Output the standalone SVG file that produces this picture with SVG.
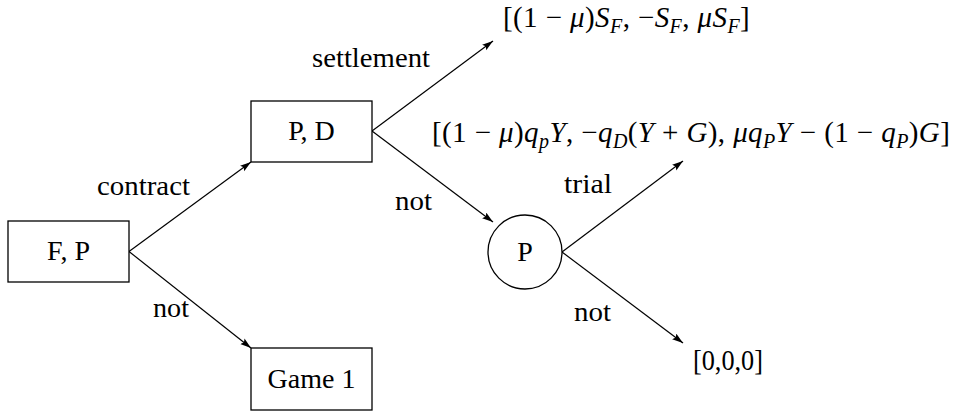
<svg xmlns="http://www.w3.org/2000/svg" width="960" height="414" viewBox="0 0 960 414">
<style>
text{font-family:"Liberation Serif","DejaVu Serif",serif;font-size:28px;fill:#000}
.box{fill:#fff;stroke:#000;stroke-width:1.3}
.edge{fill:none;stroke:#000;stroke-width:1.2;marker-end:url(#ah)}
.c{text-anchor:middle}
.m{font-size:29px;letter-spacing:0.4px}
.i{font-style:italic}
.s{font-size:20px;font-style:italic}
</style>
<defs>
<marker id="ah" markerUnits="userSpaceOnUse" markerWidth="12" markerHeight="8" refX="11" refY="3.5" orient="auto">
<path d="M0,0 L11,3.5 L0,7 L2,3.5 z" fill="#000"/>
</marker>
</defs>
<g id="connectors">
<line class="edge" x1="129" y1="251.5" x2="251" y2="162"/>
<line class="edge" x1="129" y1="251.5" x2="251" y2="348"/>
<line class="edge" x1="372" y1="131" x2="493" y2="41"/>
<line class="edge" x1="372" y1="131" x2="493" y2="222"/>
<line class="edge" x1="562" y1="252" x2="683" y2="161"/>
<line class="edge" x1="562" y1="252" x2="683" y2="343"/>
</g>
<g id="edge-labels">
<text x="97" y="195" textLength="93" lengthAdjust="spacingAndGlyphs">contract</text>
<text x="153" y="317" textLength="36" lengthAdjust="spacingAndGlyphs">not</text>
<text x="312" y="67" textLength="118" lengthAdjust="spacingAndGlyphs">settlement</text>
<text x="395" y="210" textLength="37" lengthAdjust="spacingAndGlyphs">not</text>
<text x="564" y="193" textLength="48" lengthAdjust="spacingAndGlyphs">trial</text>
<text x="574" y="321" textLength="37" lengthAdjust="spacingAndGlyphs">not</text>
</g>
<g id="node-FP">
<rect class="box" x="8" y="221" width="121" height="61"/>
<text class="c" x="68.5" y="260">F, P</text>
</g>
<g id="node-PD">
<rect class="box" x="251" y="101" width="121" height="61"/>
<text class="c" x="311.5" y="140">P, D</text>
</g>
<g id="node-Game1">
<rect class="box" x="251" y="348" width="121" height="62"/>
<text class="c" x="311.5" y="388">Game 1</text>
</g>
<g id="node-P">
<circle class="box" cx="525" cy="252" r="37"/>
<text class="c" x="525" y="261">P</text>
</g>
<g id="payoff-settlement">
<text class="m" x="503" y="27">[(1 − <tspan class="i">μ</tspan>)<tspan class="i">S</tspan><tspan class="s" dy="6">F</tspan><tspan dy="-6">, −</tspan><tspan class="i">S</tspan><tspan class="s" dy="6">F</tspan><tspan dy="-6">, </tspan><tspan class="i">μS</tspan><tspan class="s" dy="6">F</tspan><tspan dy="-6">]</tspan></text>
</g>
<g id="payoff-trial">
<text class="m" x="432" y="142">[(1 − <tspan class="i">μ</tspan>)<tspan class="i">q</tspan><tspan class="s" dy="6">p</tspan><tspan class="i" dy="-6">Y</tspan>, −<tspan class="i">q</tspan><tspan class="s" dy="6">D</tspan><tspan dy="-6">(</tspan><tspan class="i">Y</tspan> + <tspan class="i">G</tspan>), <tspan class="i">μq</tspan><tspan class="s" dy="6">P</tspan><tspan class="i" dy="-6">Y</tspan> − (1 − <tspan class="i">q</tspan><tspan class="s" dy="6">P</tspan><tspan dy="-6">)</tspan><tspan class="i">G</tspan>]</text>
</g>
<g id="payoff-not">
<text x="693" y="370" style="font-size:29px" textLength="70" lengthAdjust="spacingAndGlyphs">[0,0,0]</text>
</g>
</svg>
